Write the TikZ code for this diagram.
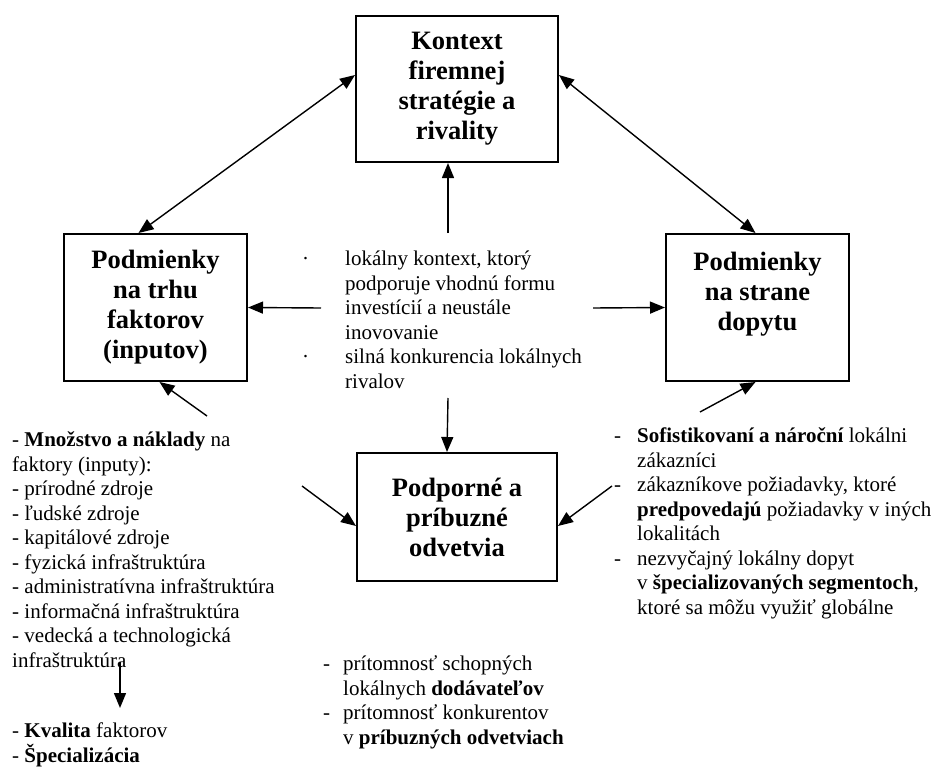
\documentclass[tikz,border=0pt]{standalone}
\usepackage{fontspec}
\setmainfont{Liberation Serif}
\usetikzlibrary{arrows.meta}

\newcommand{\dotitem}{\makebox[43pt][l]{·}}
\newcommand{\dotskip}{\hspace*{43pt}}

\begin{document}
\begin{tikzpicture}[x=1pt, y=-1pt,
    box/.style={draw, line width=2pt, align=center, font=\fontsize{26.5}{30}\selectfont\bfseries},
    list/.style={align=left, inner sep=0pt, anchor=base west, font=\fontsize{21}{24.5}\selectfont},
    arr/.style={line width=1.4pt, -{Triangle[length=15pt, width=12pt]}},
    dblarr/.style={line width=1.4pt, {Triangle[length=15pt, width=12pt]}-{Triangle[length=15pt, width=12pt]}}]
  \useasboundingbox (0,0) rectangle (938,768);

  \node[box, minimum width=202pt, minimum height=146pt] (ctx) at (457,89) {Kontext\\firemnej\\stratégie a\\rivality};
  \node[box, minimum width=183pt, minimum height=147pt] (fac) at (155.5,307.5) {Podmienky\\na trhu\\faktorov\\(inputov)};
  \node[box, minimum width=183pt, minimum height=147pt, text depth=33pt] (dem) at (757.5,307.5) {Podmienky\\na strane\\dopytu};
  \node[box, minimum width=200pt, minimum height=128pt] (sup) at (457,517) {Podporné a\\príbuzné\\odvetvia};

  % texts (placed by their last baseline)
  \node[list] (ctxtext) at (302,388) {\dotitem lokálny kontext, ktorý\\\dotskip podporuje vhodnú formu\\\dotskip investícií a neustále\\\dotskip inovovanie\\\dotitem silná konkurencia lokálnych\\\dotskip rivalov};
  \node[list] (factext) at (12,667) {- \textbf{Množstvo a náklady} na\\faktory (inputy):\\- prírodné zdroje\\- ľudské zdroje\\- kapitálové zdroje\\- fyzická infraštruktúra\\- administratívna infraštruktúra\\- informačná infraštruktúra\\- vedecká a technologická\\infraštruktúra};
  \node[list] (qualtext) at (12,762) {- \textbf{Kvalita} faktorov\\- \textbf{Špecializácia}};
  \node[list] (demtext) at (614,614) {\makebox[23pt][l]{-}\textbf{Sofistikovaní a nároční} lokálni\\\hspace*{23pt}zákazníci\\\makebox[23pt][l]{-}zákazníkove požiadavky, ktoré\\\hspace*{23pt}\textbf{predpovedajú} požiadavky v iných\\\hspace*{23pt}lokalitách\\\makebox[23pt][l]{-}nezvyčajný lokálny dopyt\\\hspace*{23pt}v \textbf{špecializovaných segmentoch},\\\hspace*{23pt}ktoré sa môžu využiť globálne};
  \node[list] (suptext) at (323,744) {\makebox[20pt][l]{-}prítomnosť schopných\\\hspace*{20pt}lokálnych \textbf{dodávateľov}\\\makebox[20pt][l]{-}prítomnosť konkurentov\\\hspace*{20pt}v \textbf{príbuzných odvetviach}};

  % free ends
  \coordinate (up) at (448,233);
  \coordinate (left) at (321,308);
  \coordinate (right) at (593,308);
  \coordinate (down) at (448,398);
  \coordinate (facin) at (207,416);
  \coordinate (demin) at (700,412);
  \coordinate (supl) at (302,486);
  \coordinate (supr) at (612,486);
  \coordinate (q1) at (120,662);
  \coordinate (q2) at (120,708);

  \draw[dblarr] ([yshift=14pt]ctx.west) -- ([xshift=-17pt]fac.north);
  \draw[dblarr] ([yshift=14pt]ctx.east) -- ([xshift=-2pt]dem.north);
  \draw[arr] (up) -- ([xshift=-9pt]ctx.south);
  \draw[arr] (left) -- (fac.east);
  \draw[arr] (right) -- (dem.west);
  \draw[arr] (down) -- ([xshift=-10pt]sup.north);
  \draw[arr] (facin) -- ([xshift=4pt]fac.south);
  \draw[arr] (demin) -- ([xshift=-2pt]dem.south);
  \draw[arr] (supl) -- ([yshift=-9pt]sup.west);
  \draw[arr] (supr) -- ([yshift=-9pt]sup.east);
  \draw[arr] (q1) -- (q2);
\end{tikzpicture}
\end{document}
